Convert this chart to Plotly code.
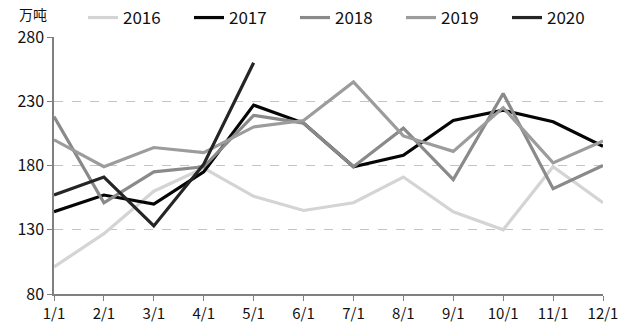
import plotly.graph_objects as go

# Monthly volume by year, unit: 万吨
months = ["1/1", "2/1", "3/1", "4/1", "5/1", "6/1", "7/1", "8/1", "9/1", "10/1", "11/1", "12/1"]
y2016 = [101, 127, 160, 178, 156, 145, 151, 171, 144, 130, 179, 151]
y2017 = [144, 157, 150, 175, 227, 213, 179, 188, 215, 223, 214, 195]
y2018 = [218, 151, 175, 179, 219, 213, 179, 209, 169, 236, 162, 180]
y2019 = [200, 179, 194, 190, 210, 215, 245, 203, 191, 225, 182, 199]
y2020 = [157, 171, 133, 181, 260]

series = [
    ("2016", y2016, "#d4d4d4"),
    ("2017", y2017, "#050505"),
    ("2018", y2018, "#8a8a8a"),
    ("2019", y2019, "#9c9c9c"),
    ("2020", y2020, "#252525"),
]

font_family = "Noto Sans CJK SC, DejaVu Sans, sans-serif"
W, H = 626, 333

fig = go.Figure()
for name, vals, color in series:
    fig.add_trace(go.Scatter(
        x=months[:len(vals)], y=vals, name=name, mode="lines",
        line=dict(color=color, width=3.2),
    ))

fig.update_layout(
    width=W, height=H,
    margin=dict(l=54, r=23, t=37, b=39, autoexpand=False),
    paper_bgcolor="white", plot_bgcolor="white",
    font=dict(family=font_family, size=15, color="#111"),
    showlegend=True,
    legend=dict(
        orientation="h",
        xref="container", yref="container",
        x=83 / W, xanchor="left", y=1 - 18 / H, yanchor="middle",
        entrywidth=61, entrywidthmode="pixels",
        font=dict(size=17, color="#111"),
        itemwidth=30, tracegroupgap=0,
        bgcolor="rgba(0,0,0,0)",
    ),
    xaxis=dict(
        type="category", categoryorder="array", categoryarray=months,
        range=[0, 11], showgrid=False,
        showline=True, linecolor="#808080", linewidth=1.5,
        ticks="outside", ticklen=5, tickcolor="#808080",
        tickfont=dict(size=15, color="#111"),
    ),
    yaxis=dict(
        range=[80, 280], tickvals=[80, 130, 180, 230, 280],
        showgrid=True, gridcolor="#c4c4c4", griddash="dash", gridwidth=1.2,
        showline=True, linecolor="#808080", linewidth=1.5,
        ticks="outside", ticklen=5, tickcolor="#808080",
        tickfont=dict(size=16, color="#111"), zeroline=False,
    ),
    annotations=[dict(
        text="万吨", xref="paper", yref="paper",
        x=(33 - 54) / 549, y=1 + (37 - 14) / 257,
        xanchor="center", yanchor="middle",
        showarrow=False, font=dict(size=14, color="#111"),
    )],
)

fig.write_html("out.html")
